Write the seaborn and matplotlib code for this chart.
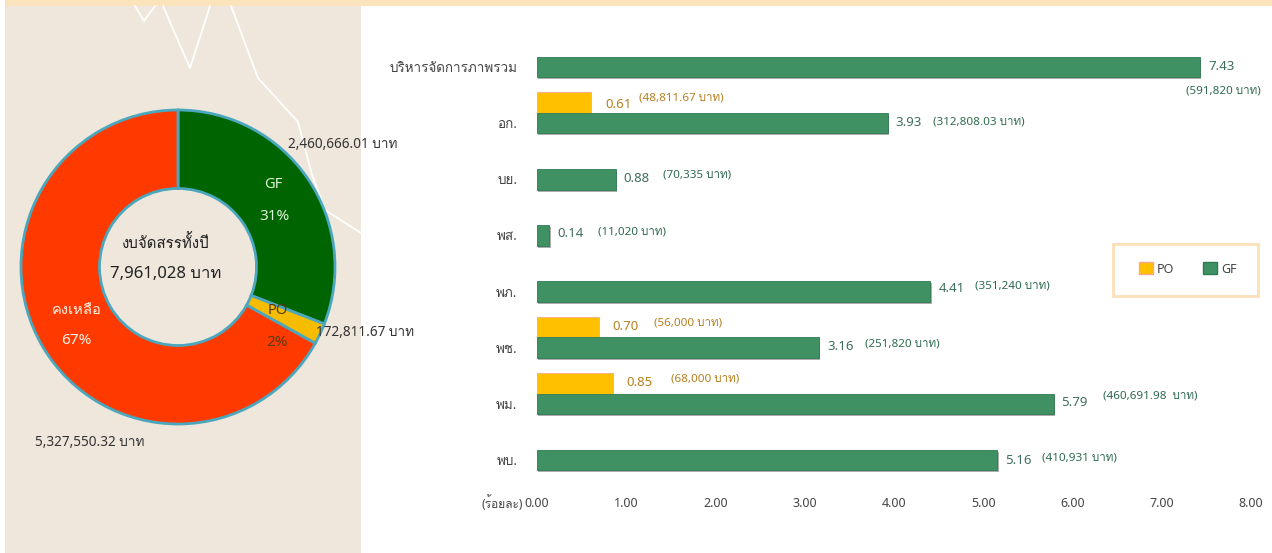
import matplotlib
matplotlib.use('Agg')
import matplotlib.pyplot as plt
from matplotlib.patches import Patch, Rectangle
import matplotlib.patheffects as pe
import pandas as pd
import seaborn as sns

W, H = 1272, 553

# chart data
months = ['บริหารจัดการภาพรวม', 'อก.', 'บย.', 'พส.', 'พภ.', 'พช.', 'พม.', 'พบ.']
gf_pct = [7.43, 3.93, 0.88, 0.14, 4.41, 3.16, 5.79, 5.16]
po_pct = [0, 0.61, 0, 0, 0, 0.70, 0.85, 0]
gf_baht = ['(591,820 บาท)', '(312,808.03 บาท)', '(70,335 บาท)', '(11,020 บาท)',
           '(351,240 บาท)', '(251,820 บาท)', '(460,691.98  บาท)', '(410,931 บาท)']
po_baht = ['', '(48,811.67 บาท)', '', '', '', '(56,000 บาท)', '(68,000 บาท)', '']
xticks = [0, 1, 2, 3, 4, 5, 6, 7, 8]

budget_labels = ['GF', 'PO', 'คงเหลือ']
budget_values = [2460666.01, 172811.67, 5327550.32]
budget_text = ['2,460,666.01 บาท', '172,811.67 บาท', '5,327,550.32 บาท']
budget_total = '7,961,028 บาท'

GREEN = '#3F9163'
ORANGE = '#FFC000'
LABEL_GREEN = '#3F6F5C'
LABEL_BROWN = '#B5801F'

sns.set_theme(style='white')
plt.rcParams['font.family'] = ['Noto Sans', 'Loma', 'Noto Sans Thai', 'DejaVu Sans']

fig = plt.figure(figsize=(W / 100, H / 100), dpi=100, facecolor='white')


def px_axes(x0, y0, x1, y1):
    # axes placed by pixel box, y counted from the top like the picture
    return fig.add_axes([x0 / W, 1 - y1 / H, (x1 - x0) / W, (y1 - y0) / H])


# background panel, top strip and the white map lines
bg = px_axes(0, 0, W, H)
bg.set_xlim(0, W)
bg.set_ylim(H, 0)
bg.axis('off')
bg.add_patch(Rectangle((5, 0), W, 6, color='#FBE3BC', lw=0))
bg.add_patch(Rectangle((5, 6), 356, H, color='#EFE7DC', lw=0))
map_lines = [[(135, 6), (144, 21), (155, 6)],
             [(163, 6), (190, 68), (210, 6)],
             [(231, 6), (258, 78), (298, 122), (312, 175), (325, 210), (361, 233)]]
for line in map_lines:
    bg.plot(*zip(*line), color='white', lw=1.3)

# donut
pie_ax = px_axes(21, 110, 335, 424)
pie_ax.pie(budget_values, colors=['#006400', '#F5BC00', '#FF3A00'], startangle=90,
           counterclock=False, radius=1,
           wedgeprops=dict(width=0.5, edgecolor='#4BA7BE', linewidth=2))
pie_ax.set_xlim(-1, 1)
pie_ax.set_ylim(-1, 1)

bg.set_zorder(0)
pie_ax.set_zorder(1)

txt = fig.add_axes([0, 0, 1, 1], facecolor='none', zorder=5)
txt.set_xlim(0, W)
txt.set_ylim(H, 0)
txt.axis('off')

slice_spots = [((273, 184), (274, 216), '#DDF2D8'),
               ((278, 311), (277, 342), '#5A3A10'),
               ((77, 310), (76, 341), '#FFF1E6')]
for label, value, (p1, p2, col) in zip(budget_labels, budget_values, slice_spots):
    share = value / sum(budget_values) * 100
    txt.text(*p1, label, color=col, fontsize=10.6, ha='center', va='center')
    txt.text(*p2, f'{share:.0f}%', color=col, fontsize=11, ha='center', va='center')

amount_spots = [(288, 145), (316, 332), (35, 442)]
for s, (x, y) in zip(budget_text, amount_spots):
    txt.text(x, y, s, color='#333333', fontsize=9.8, ha='left', va='center')
txt.text(166, 244, 'งบจัดสรรทั้งปี', color='#222222', fontsize=10.8, ha='center', va='center')
txt.text(166, 274, budget_total, color='#222222', fontsize=12, ha='center', va='center')

# bars, the third empty hue keeps GF centred on its tick with PO sitting above it
bars = pd.DataFrame({
    'month': months * 2,
    'pct': gf_pct + po_pct,
    'fund': ['GF'] * len(months) + ['PO'] * len(months),
})
ax = px_axes(537, 38.8, 1250.8, 488.2)
ax.patch.set_alpha(0)
ax.set_zorder(2)
sns.barplot(data=bars, y='month', x='pct', hue='fund', order=months,
            hue_order=['PO', 'GF', 'blank'], palette={'PO': ORANGE, 'GF': GREEN, 'blank': 'white'},
            width=1.1, gap=0, dodge=True, saturation=1, legend=False, ax=ax)

for cont, edge in zip(ax.containers, ['#F4A98C', '#2F7A50']):
    for b in cont:
        if b.get_width() > 0:
            b.set_edgecolor(edge)
            b.set_linewidth(0.6)
            if edge == '#2F7A50':
                b.set_path_effects([pe.SimplePatchShadow(offset=(1, -1.5), shadow_rgbFace='#777777', alpha=0.6),
                                    pe.Normal()])

ax.set_xlim(0, 8)
ax.set_ylim(7.5, -0.5)
ax.set_xticks(xticks)
ax.set_xticklabels([f'{t:.2f}' for t in xticks], fontsize=9, color='#444444')
ax.tick_params(axis='x', length=0, pad=6)
ax.tick_params(axis='y', length=0, pad=14, labelsize=9.7, labelcolor='#444444')
ax.set_xlabel('')
ax.set_ylabel('')
sns.despine(ax=ax, left=True, bottom=True, top=True, right=True)

txt.text(523, 503, '(ร้อยละ)', color='#444444', fontsize=8.6, ha='right', va='center')

# value labels, placed as offsets (px) from the bar end and its row
gf_offsets = [(8, 0, 1186, 91), (8, -1, 933, 122), (8, -1, 663, 175), (8, -2, 598, 232),
              (8, -3, 975, 286), (8, -1, 865, 344), (8, -1, 1103, 396), (8, 0, 1042, 458)]
for i, (v, s) in enumerate(zip(gf_pct, gf_baht)):
    dx, dy, bx, by = gf_offsets[i]
    ax.annotate(f'{v:.2f}', (v, i), xytext=(dx * 0.72, -dy * 0.72), textcoords='offset points',
                color=LABEL_GREEN, fontsize=9.5, ha='left', va='center')
    txt.text(bx, by, s, color='#2F6B50', fontsize=8.4, ha='left', va='center')

po_offsets = {1: (605, 104, 639, 98), 5: (612, 326, 654, 323), 6: (626, 383, 671, 379)}
for i, (vx, vy, bx, by) in po_offsets.items():
    txt.text(vx, vy, f'{po_pct[i]:.2f}', color=LABEL_BROWN, fontsize=9.5, ha='left', va='center')
    txt.text(bx, by, po_baht[i], color=LABEL_BROWN, fontsize=8.4, ha='left', va='center')

# legend box
txt.add_patch(Rectangle((1113, 244), 145, 52, facecolor='white', edgecolor='#FBE0B8', lw=2))
handles = [Patch(facecolor=ORANGE, edgecolor='#F4A98C', label='PO'),
           Patch(facecolor=GREEN, edgecolor='#2F7A50', label='GF')]
leg = fig.legend(handles=handles, ncol=2, loc='center', fontsize=9, labelcolor='#444444',
                 bbox_to_anchor=(1188 / W, 1 - 269 / H), frameon=False,
                 handlelength=1.1, handleheight=1.1, handletextpad=0.35, columnspacing=2.3,
                 borderaxespad=0)
leg.set_zorder(6)

fig.savefig('out.png', dpi=100)
